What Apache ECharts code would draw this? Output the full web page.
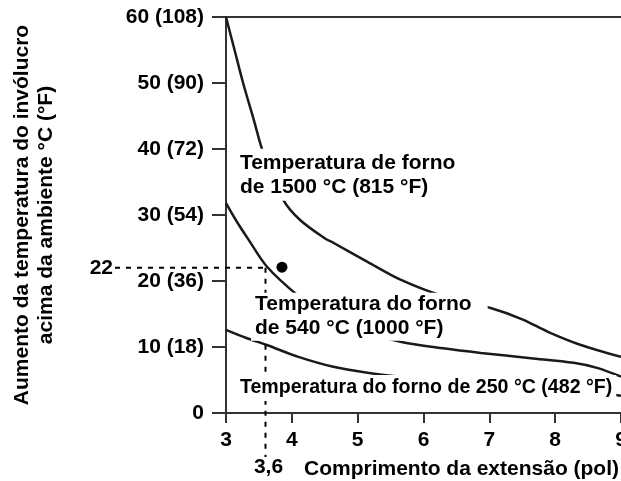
<!DOCTYPE html>
<html>
<head>
<meta charset="utf-8">
<script src="https://cdn.jsdelivr.net/npm/echarts@6/dist/echarts.min.js"></script>
<style>
  html, body { margin: 0; background: #fff; }
  #chart { width: 621px; height: 481px; }
</style>
</head>
<body>
<div id="chart"></div>
<script>
// eixo y: valores e rótulos (°C e °F)
var yTickValues = [0, 10, 20, 30, 40, 50, 60];
var yTickLabels = ['0', '10 (18)', '20 (36)', '30 (54)', '40 (72)', '50 (90)', '60 (108)'];

// curvas
var forno1500X = [3, 3.13, 3.26, 3.42, 3.57, 3.87, 4.13, 4.51, 4.63, 5.15, 5.65, 6.3, 7.02, 7.5, 7.89, 8.39, 9];
var forno1500Y = [60, 55, 50, 44.5, 39.3, 32.3, 29.2, 26.4, 25.8, 22.9, 20.2, 17.7, 15.9, 14.2, 12.3, 10.3, 8.5];

var forno540X = [3, 3.17, 3.34, 3.62, 4.08, 4.5, 5.0, 5.65, 6.3, 6.87, 7.63, 8.28, 8.65, 9];
var forno540Y = [31.8, 28.9, 26.3, 22.2, 17.9, 14.9, 12.6, 10.8, 9.8, 9.1, 8.3, 7.6, 6.8, 5.5];

var forno250X = [3, 3.3, 3.62, 4.1, 4.63, 5.15, 5.65, 6.5, 7.5, 8.5, 9];
var forno250Y = [12.6, 11.4, 10.3, 8.5, 7.0, 6.1, 5.5, 4.7, 3.9, 3.3, 2.6];

// ponto de exemplo e linhas de referência
var pontoExemplo = [3.85, 22.1];
var guiaX = 3.6;
var guiaY = 22;

function pares(xs, ys) {
  return xs.map(function (x, i) { return [x, ys[i]]; });
}

var FONTE = '"Liberation Sans", Arial, sans-serif';
var TAM = 21;
var chart = echarts.init(document.getElementById('chart'));

var curva = {
  type: 'line', smooth: 0.3, symbol: 'none', silent: true,
  lineStyle: { color: '#1a1a1a', width: 2.5 }, z: 2
};

var notaLabel = {
  show: true, position: [0, 0], align: 'left', verticalAlign: 'middle',
  fontFamily: FONTE, fontWeight: 'bold', fontSize: TAM, lineHeight: 24,
  color: '#000', backgroundColor: '#fff', padding: [0, 4, 0, 4]
};

chart.setOption({
  animation: false,
  grid: { left: 226, right: 0, top: 17, bottom: 68, outerBoundsMode: 'none', containLabel: false },
  xAxis: [{
    type: 'value', min: 3, max: 9, interval: 1,
    axisLine: { lineStyle: { color: '#333', width: 2 } },
    axisTick: { length: 10, lineStyle: { color: '#333', width: 2 } },
    splitLine: { show: false },
    axisLabel: { margin: 17, color: '#000', fontFamily: FONTE, fontWeight: 'bold', fontSize: TAM },
    name: 'Comprimento da extensão (pol)', nameLocation: 'middle', nameGap: 46,
    nameTextStyle: { color: '#000', fontFamily: FONTE, fontWeight: 'bold', fontSize: TAM, padding: [0, 0, 0, 76] }
  }, {
    type: 'value', min: 3, max: 9, position: 'top',
    axisLine: { show: true, onZero: false, lineStyle: { color: '#333', width: 2 } },
    axisTick: { show: false }, axisLabel: { show: false }, splitLine: { show: false }
  }],
  yAxis: {
    type: 'value', min: 0, max: 60, interval: 10,
    axisLine: { show: true, lineStyle: { color: '#333', width: 2 } },
    axisTick: { show: true, length: 14, lineStyle: { color: '#333', width: 2 } },
    splitLine: { show: false },
    axisLabel: {
      margin: 22, color: '#000', fontFamily: FONTE, fontWeight: 'bold', fontSize: TAM,
      formatter: function (v) { return yTickLabels[yTickValues.indexOf(v)]; }
    },
    name: 'Aumento da temperatura do invólucro\nacima da ambiente °C (°F)',
    nameLocation: 'middle', nameGap: 168, nameRotate: 90,
    nameTextStyle: { color: '#000', fontFamily: FONTE, fontWeight: 'bold', fontSize: TAM, lineHeight: 24 }
  },
  series: [
    Object.assign({ name: '1500', data: pares(forno1500X, forno1500Y) }, curva),
    Object.assign({ name: '540', data: pares(forno540X, forno540Y) }, curva),
    Object.assign({ name: '250', data: pares(forno250X, forno250Y) }, curva),
    {
      name: 'notas', type: 'scatter', symbolSize: 0, silent: true, z: 5,
      itemStyle: { opacity: 1 },
      label: notaLabel,
      data: [
        { value: [3.15, 36.1], label: { formatter: 'Temperatura de forno\nde 1500 °C (815 °F)', padding: [2, 4, 2, 4] } },
        { value: [3.38, 14.6], label: { formatter: 'Temperatura do forno\nde 540 °C (1000 °F)', padding: [0, 16, 0, 4] } },
        { value: [3.15, 3.8], label: { formatter: 'Temperatura do forno de 250 °C (482 °F)', fontSize: 19.6, padding: [1, 4, 1, 4] } }
      ]
    },
    {
      name: 'ponto', type: 'scatter', symbol: 'circle', symbolSize: 11, silent: true, z: 6,
      itemStyle: { color: '#000', opacity: 1 },
      data: [pontoExemplo]
    }
  ]
});

// linhas tracejadas de leitura (22 e 3,6), posicionadas pela escala do gráfico
var p = chart.convertToPixel({ gridIndex: 0 }, [guiaX, guiaY]);
var tracejado = { stroke: '#000', lineWidth: 2, lineDash: [5, 6] };
chart.setOption({
  graphic: [
    { type: 'line', z: 4, shape: { x1: 115, y1: p[1], x2: p[0], y2: p[1] }, style: tracejado },
    { type: 'line', z: 4, shape: { x1: p[0], y1: p[1], x2: p[0], y2: 457 }, style: tracejado },
    { type: 'text', z: 4, x: 113, y: p[1], style: {
      text: String(guiaY), align: 'right', verticalAlign: 'middle',
      font: 'bold ' + TAM + 'px ' + FONTE, fill: '#000' } },
    { type: 'text', z: 4, x: p[0] + 3, y: 467, style: {
      text: String(guiaX).replace('.', ','), align: 'center', verticalAlign: 'middle',
      font: 'bold ' + TAM + 'px ' + FONTE, fill: '#000' } }
  ]
});
</script>
</body>
</html>
